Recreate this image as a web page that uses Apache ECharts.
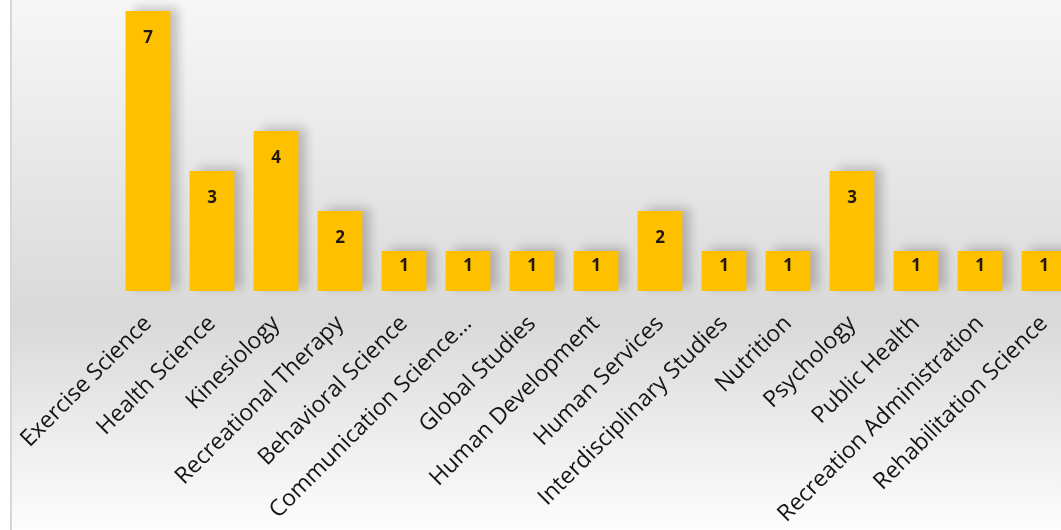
<!DOCTYPE html>
<html>
<head>
<meta charset="utf-8">
<script src="https://cdn.jsdelivr.net/npm/echarts@6/dist/echarts.min.js"></script>
<style>
  html, body { margin: 0; padding: 0; background: #ffffff; overflow: hidden; }
  #chart { width: 1078px; height: 530px; }
</style>
</head>
<body>
<div id="chart"></div>
<script>
// Majors and how many students are in each
const majors = [
  'Exercise Science', 'Health Science', 'Kinesiology', 'Recreational Therapy',
  'Behavioral Science', 'Communication Science\u2026', 'Global Studies',
  'Human Development', 'Human Services', 'Interdisciplinary Studies',
  'Nutrition', 'Psychology', 'Public Health', 'Recreation Administration',
  'Rehabilitation Science'
];
const counts = [7, 3, 4, 2, 1, 1, 1, 1, 2, 1, 1, 3, 1, 1, 1];

const chart = echarts.init(document.getElementById('chart'), null, { renderer: 'canvas' });

// Short bars get their number closer to the top edge
const barData = counts.map(v => ({
  value: v,
  label: { distance: v === 1 ? 7 : 19 }
}));

chart.setOption({
  animation: false,
  backgroundColor: {
    type: 'linear', x: 0, y: 0, x2: 0, y2: 1,
    colorStops: [
      { offset: 0, color: '#f7f7f7' },
      { offset: 0.6, color: '#d9d9d9' },
      { offset: 1, color: '#fdfdfd' }
    ]
  },
  graphic: [
    { type: 'rect', left: 0, top: 0, shape: { width: 10, height: 530 }, style: { fill: '#ffffff' }, z: 0 },
    { type: 'rect', left: 10, top: 0, shape: { width: 2, height: 530 }, style: { fill: '#d6d6d6' }, z: 0 }
  ],
  grid: { left: 116, top: 11, width: 960, height: 280, containLabel: false },
  xAxis: {
    type: 'category',
    data: majors,
    axisLine: { show: false },
    axisTick: { show: false },
    axisLabel: {
      rotate: 45,
      interval: 0,
      margin: 29,
      color: '#141414',
      fontFamily: 'Open Sans',
      fontSize: 23
    }
  },
  yAxis: {
    type: 'value',
    min: 0,
    max: 7,
    show: false,
    splitLine: { show: false }
  },
  series: [{
    type: 'bar',
    data: barData,
    barWidth: '70%',
    itemStyle: {
      color: '#FFC000',
      shadowColor: 'rgba(0,0,0,0.22)',
      shadowBlur: 10,
      shadowOffsetX: 8,
      shadowOffsetY: -3
    },
    label: {
      show: true,
      position: 'insideTop',
      color: '#1f1a10',
      fontFamily: 'Open Sans',
      fontWeight: 'bold',
      fontSize: 17
    }
  }]
});
</script>
</body>
</html>
